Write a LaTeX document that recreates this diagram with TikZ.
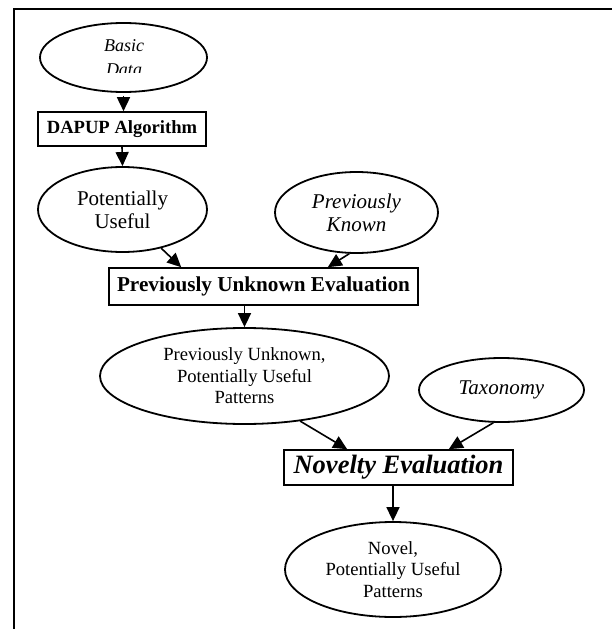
\documentclass[tikz,border=0pt]{standalone}
\usepackage{fontspec}
\setmainfont{Liberation Serif}
\usetikzlibrary{shapes.geometric,arrows.meta}
\begin{document}
\begin{tikzpicture}[x=1pt,y=-1pt,
  oval/.style={ellipse,draw,line width=1.8pt,inner sep=0pt,align=center},
  boxn/.style={rectangle,draw,line width=1.6pt,inner sep=0pt,align=center},
  arr/.style={line width=1.6pt,-{Triangle[length=14pt,width=13pt]}},
  fnorm/.style={font=\fontsize{18.6}{21.5}\selectfont},
  fbig/.style={font=\fontsize{21}{23}\selectfont}]
\useasboundingbox (0,0) rectangle (612,629);
% frame
\draw[line width=1.8pt] (14,629) -- (14,9) -- (612,9);
% nodes
\node[oval,minimum width=167pt,minimum height=69pt] (bd) at (123.5,57.5) {};
\begin{scope}
  \clip (40,20) rectangle (207,72.5);
  \node[anchor=base,inner sep=0pt,fnorm,font=\fontsize{18}{21}\selectfont\itshape] (bdt1) at (124,51) {Basic};
  \node[anchor=base,inner sep=0pt,font=\fontsize{18}{21}\selectfont\itshape] (bdt2) at (124,75.5) {Data};
\end{scope}
\node[boxn,minimum width=168pt,minimum height=34pt,font=\fontsize{18.6}{21}\selectfont\bfseries] (dapup) at (122,129) {DAPUP Algorithm};
\node[oval,minimum width=169pt,minimum height=85pt,fbig] (pu) at (122.5,209.5) {Potentially\\Useful};
\node[oval,minimum width=163pt,minimum height=81pt,font=\fontsize{21}{23}\selectfont\itshape] (pk) at (356.5,212.5) {Previously\\Known};
\node[boxn,minimum width=309pt,minimum height=37pt,font=\fontsize{21.2}{23}\selectfont\bfseries] (pue) at (263.5,286.5) {Previously Unknown Evaluation};
\node[oval,minimum width=289pt,minimum height=96pt,fnorm] (puup) at (244.5,376) {Previously Unknown,\\Potentially Useful\\Patterns};
\node[oval,minimum width=165pt,minimum height=64pt,font=\fontsize{21}{23}\selectfont\itshape] (tax) at (501.5,390) {Taxonomy};
\node[boxn,minimum width=229pt,minimum height=35pt,font=\fontsize{26.5}{28}\selectfont\bfseries\itshape] (nov) at (398.5,467.5) {Novelty Evaluation};
\node[oval,minimum width=216pt,minimum height=95pt,fnorm] (novel) at (393,569.5) {Novel,\\Potentially Useful\\Patterns};
% connectors
\draw[arr] ([yshift=-3pt]bd.south) -- (bd.south |- dapup.north);
\draw[arr] (dapup.south) -- (pu.north);
\draw[arr] (pu.-45) -- ([xshift=73pt]pue.north west);
\draw[arr] (pk.-100) -- ([xshift=-91pt]pue.north east);
\draw[arr] (puup.north |- pue.south) -- (puup.north);
\draw[arr] (puup.-39) -- ([xshift=64pt]nov.north west);
\draw[arr] (tax.-104) -- ([xshift=-65pt]nov.north east);
\draw[arr] (novel.north |- nov.south) -- (novel.north);
\end{tikzpicture}
\end{document}
